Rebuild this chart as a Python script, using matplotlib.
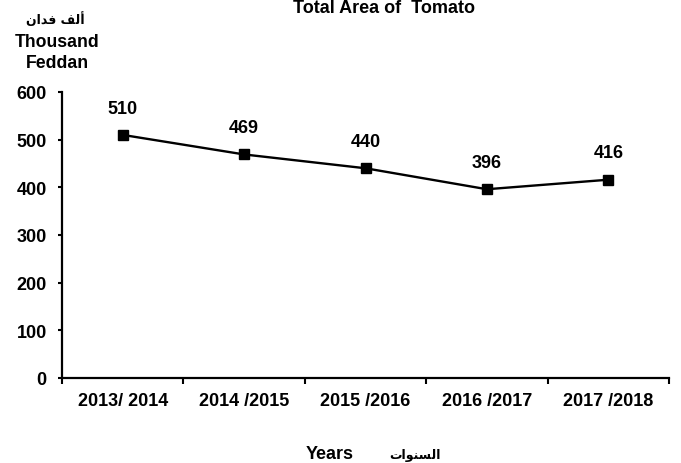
import matplotlib.pyplot as plt

years = ['2013/ 2014', '2014 /2015', '2015 /2016', '2016 /2017', '2017 /2018']
area = [510, 469, 440, 396, 416]
y_ticks = [0, 100, 200, 300, 400, 500, 600]

# Arabic written in presentation forms, visual order (matplotlib does no shaping)
ar_unit = '\uFEE5\uFE8D\uFEAA\uFED3 \uFED2\uFEDF\uFE83'   # ألف فدان
ar_years = '\uFE95\uFE8D\uFEEE\uFEE8\uFEB4\uFEDF\uFE8D'   # السنوات

plt.rcParams['font.family'] = ['Liberation Sans', 'DejaVu Sans']
plt.rcParams['font.weight'] = 'bold'

W, H = 681, 464
fig = plt.figure(figsize=(W / 100, H / 100), dpi=100)
ax = fig.add_axes([62 / W, (H - 379) / H, 607 / W, 286 / H])

x = list(range(len(years)))
ax.plot(x, area, color='black', lw=1.7, marker='s', ms=7, mfc='black', mec='black',
        clip_on=False)
for xi, v in zip(x, area):
    ax.annotate(str(v), (xi, v), xytext=(0, 16), textcoords='offset points',
                ha='center', va='baseline', fontsize=13, fontweight='bold')

ax.set_xlim(-0.5, len(years) - 0.5)
ax.set_ylim(0, 600)
ax.set_yticks(y_ticks)
ax.set_yticklabels([str(t) for t in y_ticks], fontsize=13, fontweight='bold')
ax.set_xticks([i - 0.5 for i in range(len(years) + 1)])
ax.set_xticklabels([])
ax.set_xticks(x, minor=True)
ax.set_xticklabels(years, minor=True, fontsize=13, fontweight='bold')
ax.tick_params(axis='x', which='minor', length=0, pad=10)
ax.tick_params(axis='x', which='major', direction='out', length=4, width=1.5)
ax.tick_params(axis='y', which='major', direction='out', length=3, width=1.5, pad=8)

for s in ['top', 'right']:
    ax.spines[s].set_visible(False)
for s in ['left', 'bottom']:
    ax.spines[s].set_linewidth(1.6)

# title sits at the very top edge in the source; keep it just inside
fig.text(384 / W, 1 - 13 / H, 'Total Area of  Tomato', ha='center', va='baseline',
         fontsize=13, fontweight='bold')
fig.text(55 / W, 1 - 24 / H, ar_unit, ha='center', va='baseline',
         fontsize=9, fontweight='bold', family=['DejaVu Sans'])
fig.text(57 / W, 1 - 47 / H, 'Thousand', ha='center', va='baseline',
         fontsize=12.7, fontweight='bold')
fig.text(57 / W, 1 - 68 / H, 'Feddan', ha='center', va='baseline',
         fontsize=12.7, fontweight='bold')
fig.text(330 / W, 1 - 459 / H, 'Years', ha='center', va='baseline',
         fontsize=13, fontweight='bold')
fig.text(415 / W, 1 - 459 / H, ar_years, ha='center', va='baseline',
         fontsize=9, fontweight='bold', family=['DejaVu Sans'])

fig.savefig('out.png', dpi=100)
